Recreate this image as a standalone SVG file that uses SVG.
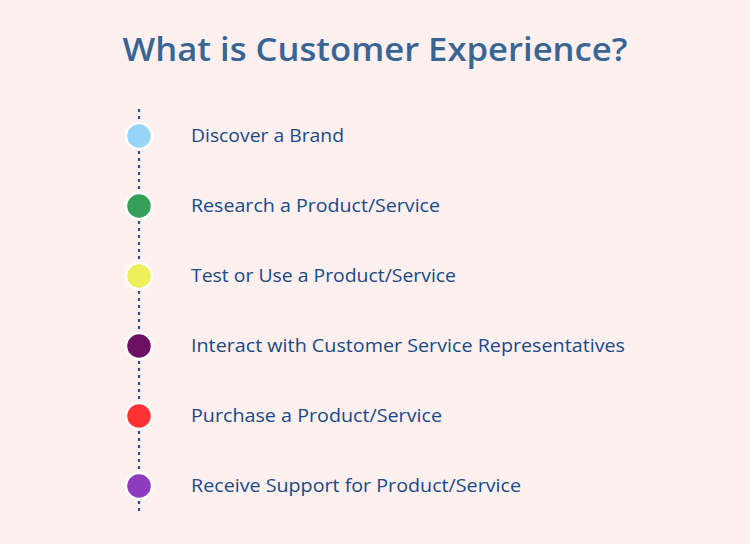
<svg xmlns="http://www.w3.org/2000/svg" width="750" height="544" viewBox="0 0 750 544">
<style>
.bg{fill:#fff0f0}
.title{font-family:"Open Sans","Noto Sans",sans-serif;font-weight:600;font-size:32px;fill:#386694}
.lbl{font-family:"Open Sans","Noto Sans",sans-serif;font-size:18px;fill:#174a85}
.dot{stroke:#ffffff;stroke-width:2.5}
.conn{stroke:#2b4f7e;stroke-width:2.2;stroke-dasharray:3 4;fill:none}
</style>
<rect class="bg" x="0" y="0" width="750" height="544"/>
<text class="title" x="375" y="61" text-anchor="middle" textLength="505" lengthAdjust="spacingAndGlyphs">What is Customer Experience?</text>
<g id="connectors">
<line class="conn" x1="139" y1="109" x2="139" y2="515"/>
</g>
<g id="n1"><circle class="dot" cx="139" cy="136" r="13" fill="#98d3f8"/><text class="lbl" x="191" y="142" textLength="153" lengthAdjust="spacingAndGlyphs">Discover a Brand</text></g>
<g id="n2"><circle class="dot" cx="139" cy="206" r="13" fill="#36a05a"/><text class="lbl" x="191" y="212" textLength="249" lengthAdjust="spacingAndGlyphs">Research a Product/Service</text></g>
<g id="n3"><circle class="dot" cx="139" cy="276" r="13" fill="#eef05a"/><text class="lbl" x="191" y="282" textLength="265" lengthAdjust="spacingAndGlyphs">Test or Use a Product/Service</text></g>
<g id="n4"><circle class="dot" cx="139" cy="346" r="13" fill="#6d0f64"/><text class="lbl" x="191" y="352" textLength="434" lengthAdjust="spacingAndGlyphs">Interact with Customer Service Representatives</text></g>
<g id="n5"><circle class="dot" cx="139" cy="416" r="13" fill="#ff3333"/><text class="lbl" x="191" y="422" textLength="251" lengthAdjust="spacingAndGlyphs">Purchase a Product/Service</text></g>
<g id="n6"><circle class="dot" cx="139" cy="486" r="13" fill="#8e3cbf"/><text class="lbl" x="191" y="492" textLength="330" lengthAdjust="spacingAndGlyphs">Receive Support for Product/Service</text></g>
</svg>
